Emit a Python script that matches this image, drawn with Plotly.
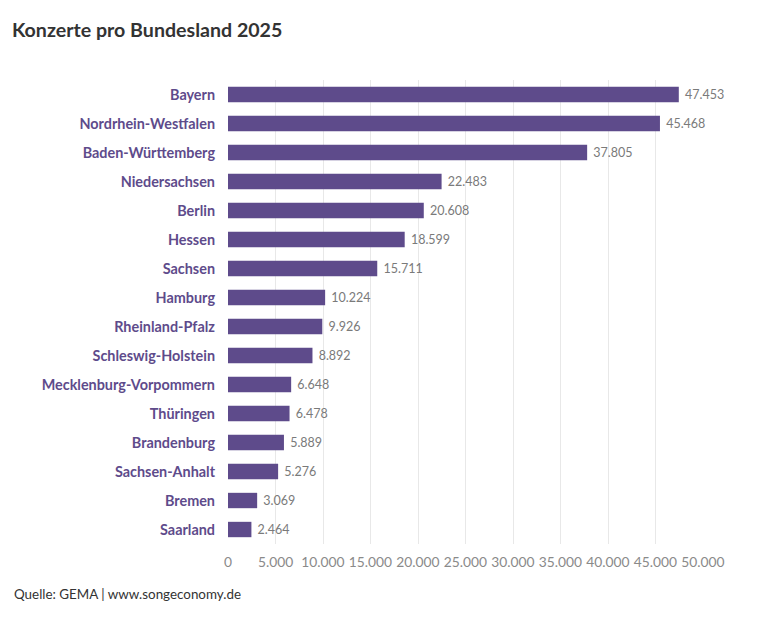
import plotly.graph_objects as go

# Konzerte pro Bundesland 2025 (Quelle: GEMA)
laender = ["Bayern", "Nordrhein-Westfalen", "Baden-Württemberg", "Niedersachsen",
           "Berlin", "Hessen", "Sachsen", "Hamburg", "Rheinland-Pfalz",
           "Schleswig-Holstein", "Mecklenburg-Vorpommern", "Thüringen",
           "Brandenburg", "Sachsen-Anhalt", "Bremen", "Saarland"]
konzerte = [47453, 45468, 37805, 22483, 20608, 18599, 15711, 10224, 9926,
            8892, 6648, 6478, 5889, 5276, 3069, 2464]
tick_werte = [0, 5000, 10000, 15000, 20000, 25000, 30000, 35000, 40000, 45000, 50000]


def de_format(v):
    return f"{v:,}".replace(",", ".")


lila = "#5e4b8b"
schrift = "Lato, 'Open Sans', sans-serif"

fig = go.Figure()
fig.add_trace(go.Bar(
    x=konzerte,
    y=laender,
    orientation="h",
    marker=dict(color=lila, line=dict(width=0)),
    text=["\u00a0" + de_format(v) for v in konzerte],
    textposition="outside",
    textfont=dict(color="#7a7a7a", size=12.5, family=schrift),
    cliponaxis=False,
    hoverinfo="x+y",
))

fig.update_layout(
    width=782,
    height=629,
    paper_bgcolor="white",
    plot_bgcolor="white",
    margin=dict(l=220, r=87, t=72, b=93),
    bargap=0.47,
    showlegend=False,
    font=dict(family=schrift),
    title=dict(
        text="<b>Konzerte pro Bundesland 2025</b>",
        x=0.005, xanchor="left", y=0.965, yanchor="middle",
        font=dict(size=19.6, color="#333333", family=schrift),
    ),
    annotations=[dict(
        text="Quelle: GEMA | www.songeconomy.de",
        xref="paper", yref="paper", x=-0.455, y=-0.108,
        xanchor="left", yanchor="middle", showarrow=False,
        font=dict(size=13.4, color="#333333", family=schrift),
    )],
)

fig.update_xaxes(
    range=[0, 50000],
    tickvals=tick_werte,
    ticktext=[de_format(v) for v in tick_werte],
    tickfont=dict(size=13.8, color="#8a8a8a"),
    showgrid=True,
    gridcolor="#e8e8e8",
    gridwidth=1,
    zeroline=False,
    showline=False,
    ticks="",
    ticklabelstandoff=8,
)
fig.update_yaxes(
    categoryorder="array",
    categoryarray=laender[::-1],
    tickfont=dict(size=14.4, color=lila, family=schrift, weight="bold"),
    showgrid=False,
    ticks="",
    ticklabelstandoff=12,
)

fig.write_html("out.html")
